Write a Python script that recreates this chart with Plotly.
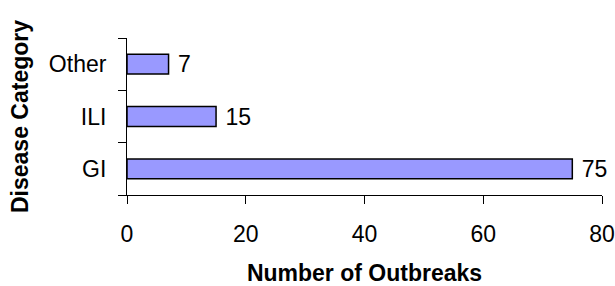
import plotly.graph_objects as go

categories = ["GI", "ILI", "Other"]
outbreaks = [75, 15, 7]
x_ticks = [0, 20, 40, 60, 80]

fig = go.Figure(go.Bar(
    y=categories, x=outbreaks, orientation="h",
    marker=dict(color="#9999FF", line=dict(color="black", width=1.5)),
    width=0.38,
    text=outbreaks, texttemplate=" %{x}", textposition="outside",
    constraintext="none",
    textfont=dict(size=23, color="black", family="Liberation Sans, Arial"),
    cliponaxis=False,
))

fig.update_layout(
    width=615, height=286,
    margin=dict(l=127, r=13, t=38, b=91),
    paper_bgcolor="white", plot_bgcolor="white",
    font=dict(family="Liberation Sans, Arial", size=23, color="black"),
    showlegend=False,
    xaxis=dict(
        range=[0, 80], tickvals=x_ticks, showgrid=False, zeroline=False,
        showline=True, linecolor="black", linewidth=1, automargin=False,
        ticks="outside", ticklen=8, tickcolor="black", ticklabelstandoff=10,
        title=dict(text="<b>Number of Outbreaks</b>", font=dict(size=23), standoff=23),
    ),
    yaxis=dict(
        categoryorder="array", categoryarray=categories,
        range=[-0.5, 2.5], showgrid=False, zeroline=False,
        showline=True, linecolor="black", linewidth=1, automargin=False,
        ticks="outside", ticklen=8, tickcolor="black", tickson="boundaries",
        ticklabelstandoff=15,
        title=dict(text="<b>Disease Category</b>", font=dict(size=23), standoff=13),
    ),
)

fig.write_html("out.html", config={"displayModeBar": False},
               post_script="document.body.style.margin='0';")
